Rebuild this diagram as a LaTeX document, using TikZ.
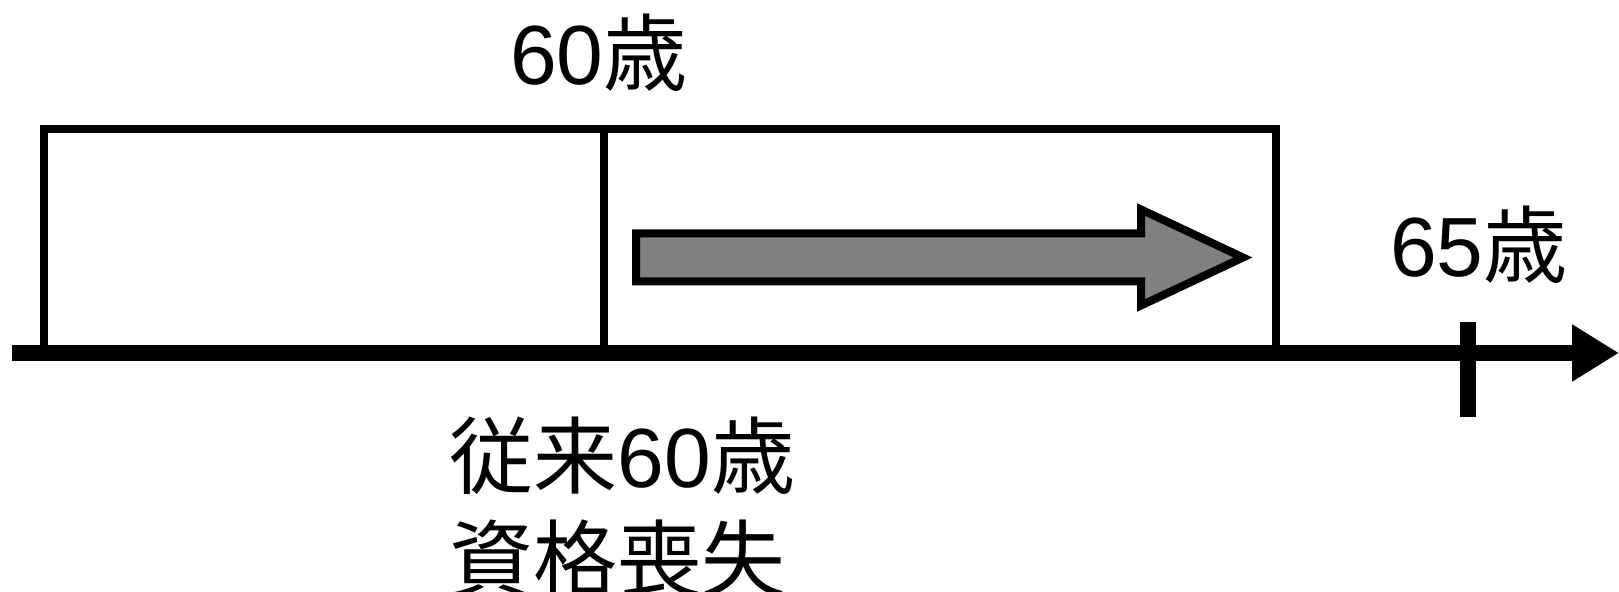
\documentclass[tikz,border=0pt]{standalone}
\usepackage{fontspec}
\setmainfont{Liberation Sans}
\newfontfamily\cjk{Noto Sans CJK JP}
\usetikzlibrary{arrows.meta}
\definecolor{arrowgray}{HTML}{808080}
\begin{document}
\begin{tikzpicture}[x=0.5pt,y=-0.5pt,
  boxline/.style={line width=4pt},
  axisline/.style={line width=8.3pt},
  tickline/.style={line width=8pt},
  bigarrow/.style={line width=4pt, fill=arrowgray},
  lbl/.style={font=\fontsize{42}{50}\selectfont, inner sep=0pt}]
\useasboundingbox (0,0) rectangle (1619,592);
% axis
\coordinate (axstart) at (12,353);
\coordinate (axtip) at (1619,353);
\draw[axisline, -{Triangle[length=23.5pt,width=27pt]}] (axstart) -- (axtip);
% box
\coordinate (bl) at (44,353);
\coordinate (tl) at (44,129);
\coordinate (tr) at (1276,129);
\coordinate (br) at (1276,353);
\coordinate (dt) at (604,129);
\coordinate (db) at (604,353);
\draw[boxline] (bl) -- (tl) -- (tr) -- (br);
\draw[boxline] (dt) -- (db);
% tick
\coordinate (tt) at (1468,321.7);
\coordinate (tb) at (1468,417.3);
\draw[tickline] (tt) -- (tb);
% gray arrow
\draw[bigarrow] (636,233.5) -- (1141,233.5) -- (1141,209.5) -- (1243,257.5)
  -- (1141,305.5) -- (1141,281.5) -- (636,281.5) -- cycle;
% labels
\node[lbl, anchor=base] (t60) at (599,85) {60{\cjk 歳}};
\node[lbl, anchor=base] (t65) at (1479,277) {65{\cjk 歳}};
\node[lbl, anchor=base west] (l1) at (449.5,488) {{\cjk 従来}60{\cjk 歳}};
\node[lbl, anchor=base west] (l2) at (449.5,591) {{\cjk 資格喪失}};
\end{tikzpicture}
\end{document}
